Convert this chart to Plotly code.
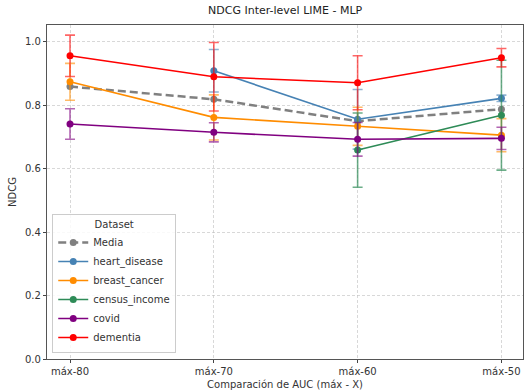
import plotly.graph_objects as go

# Comparison levels on the x axis
levels = ["máx-80", "máx-70", "máx-60", "máx-50"]
x_pos = [0, 1, 2, 3]

# Mean NDCG across datasets (no error bars)
media = [0.858, 0.818, 0.749, 0.787]

# Per-dataset NDCG values and standard deviations (None = missing)
heart_disease = [None, 0.908, 0.755, 0.821]
heart_disease_err = [0, 0.067, 0.094, 0.010]

breast_cancer = [0.873, 0.761, 0.733, 0.705]
breast_cancer_err = [0.058, 0.071, 0.060, 0.052]

census_income = [None, None, 0.658, 0.768]
census_income_err = [0, 0, 0.117, 0.173]

covid = [0.740, 0.714, 0.692, 0.695]
covid_err = [0.048, 0.030, 0.053, 0.035]

dementia = [0.955, 0.889, 0.870, 0.949]
dementia_err = [0.065, 0.108, 0.085, 0.029]

series = [
    ("heart_disease", heart_disease, heart_disease_err, "#4682B4", "rgba(70,130,180,0.6)"),
    ("breast_cancer", breast_cancer, breast_cancer_err, "#FF8C00", "rgba(255,140,0,0.6)"),
    ("census_income", census_income, census_income_err, "#2E8B57", "rgba(46,139,87,0.7)"),
    ("covid", covid, covid_err, "#800080", "rgba(128,0,128,0.6)"),
    ("dementia", dementia, dementia_err, "#FF0000", "rgba(255,0,0,0.6)"),
]

font = "DejaVu Sans"
fig = go.Figure()

fig.add_trace(go.Scatter(
    x=x_pos, y=media, name="Media", mode="lines+markers",
    line=dict(color="#808080", width=2.5, dash="8px,4px"),
    marker=dict(color="#808080", size=7),
))

for name, vals, errs, col, ecol in series:
    fig.add_trace(go.Scatter(
        x=x_pos, y=vals, name=name, mode="lines+markers",
        line=dict(color=col, width=1.6),
        marker=dict(color=col, size=7),
        error_y=dict(type="data", array=errs, visible=True,
                     color=ecol, thickness=1.6, width=5),
        connectgaps=False,
    ))

grid = "rgba(190,190,190,0.6)"
fig.update_layout(
    width=528, height=392,
    margin=dict(l=47, r=5, t=25, b=33),
    paper_bgcolor="white", plot_bgcolor="white",
    font=dict(family=font, size=10, color="#333"),
    title=dict(text="NDCG Inter-level LIME - MLP", x=0.54, xanchor="center",
               y=0.985, yanchor="top", font=dict(size=11, color="#222")),
    legend=dict(
        title=dict(text="Dataset", side="top center", font=dict(size=10)),
        x=0.011, y=0.018, xanchor="left", yanchor="bottom",
        bgcolor="rgba(255,255,255,0.85)", bordercolor="#cccccc", borderwidth=1,
        font=dict(size=10), tracegroupgap=0, itemwidth=30,
    ),
    showlegend=True,
)

fig.update_xaxes(
    tickvals=x_pos, ticktext=levels, range=[-0.16, 3.15],
    showgrid=True, gridcolor=grid, griddash="3px,2px", gridwidth=1,
    showline=True, mirror=True, linecolor="#555", linewidth=1.2,
    ticks="outside", ticklen=3, tickcolor="#444", zeroline=False,
    title=dict(text="Comparación de AUC (máx - X)", standoff=4, font=dict(size=10)),
)
fig.update_yaxes(
    range=[0, 1.052], tickvals=[0, 0.2, 0.4, 0.6, 0.8, 1.0],
    tickformat=".1f",
    showgrid=True, gridcolor=grid, griddash="3px,2px", gridwidth=1,
    showline=True, mirror=True, linecolor="#555", linewidth=1.2,
    ticks="outside", ticklen=3, tickcolor="#444", zeroline=False,
    title=dict(text="NDCG", standoff=6, font=dict(size=10)),
)

fig.write_html("out.html")
